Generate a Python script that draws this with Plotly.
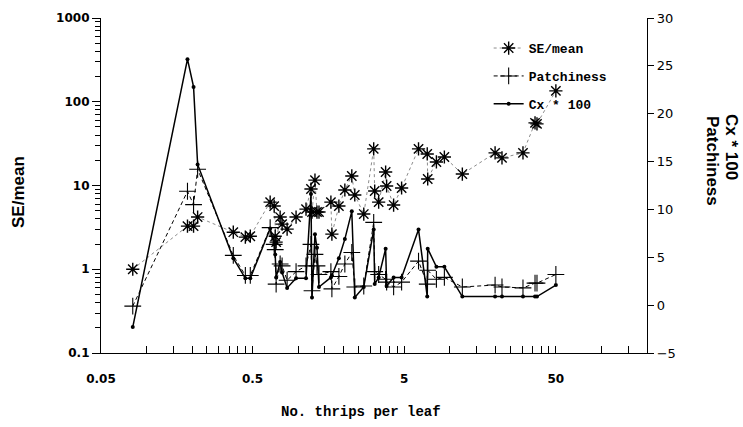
import plotly.graph_objects as go

# Mean density (No. thrips per leaf) of each data set
thrips = [0.081, 0.186, 0.204, 0.217, 0.373, 0.448, 0.483, 0.653, 0.694, 0.705,
          0.715, 0.760, 0.783, 0.845, 0.968, 1.126, 1.214, 1.233, 1.290, 1.330,
          1.371, 1.643, 1.668, 1.855, 2.031, 2.257, 2.362, 2.707, 3.148, 3.196,
          3.394, 3.774, 3.831, 4.26, 4.81, 6.22, 7.10, 7.15, 8.16, 9.21,
          12.1, 19.9, 22.1, 30.4, 36.5, 37.6, 50.1]

se_mean = [1.0, 3.27, 3.27, 4.20, 2.77, 2.42, 2.48, 6.34, 5.68, 2.48,
           2.11, 4.20, 3.46, 3.01, 4.20, 5.23, 9.08, 4.82, 11.6, 4.82,
           4.82, 6.34, 2.63, 5.68, 8.84, 13.0, 7.70, 4.56, 27.4, 8.60,
           6.34, 14.5, 9.86, 5.84, 9.33, 27.4, 23.8, 11.96, 19.1, 21.9,
           13.7, 24.5, 21.4, 24.5, 56.0, 54.5, 135.0]

patchiness = [-0.10, 11.9, 10.5, 14.2, 5.2, 3.1, 3.1, 8.1, 6.35, 5.8,
              2.2, 4.3, 4.1, 2.6, 3.5, 4.1, 6.35, 1.5, 5.3, 4.1,
              3.2, 3.5, 1.7, 3.0, 4.3, 5.5, 1.9, 2.0, 8.65, 3.5,
              3.2, 2.7, 2.4, 1.9, 2.4, 4.6, 2.2, 3.65, 2.7, 2.9,
              1.9, 2.1, 1.9, 1.8, 2.3, 2.3, 3.2]

cx100 = [-2.29, 25.7, 22.8, 14.7, 4.9, 2.8, 2.8, 8.0, 6.35, 5.3,
         2.9, 4.5, 3.4, 1.8, 2.8, 2.8, 11.6, 0.8, 7.4, 6.0,
         1.9, 2.9, 3.1, 4.9, 6.9, 9.8, 0.8, 1.9, 7.9, 2.2,
         2.9, 5.9, 2.0, 2.9, 2.9, 7.9, 0.9, 5.9, 4.0, 4.0,
         0.9, 0.9, 0.9, 0.9, 0.9, 0.9, 2.1]

x_tickvals = [0.05, 0.5, 5, 50]
x_ticktext = ["0.05", "0.5", "5", "50"]
y_tickvals = [0.1, 1, 10, 100, 1000]
y_ticktext = ["0.1", "1", "10", "100", "1000"]
y2_tickvals = [-5, 0, 5, 10, 15, 20, 25, 30]

x_minor = [k * 0.05 * 10 ** d for d in range(4) for k in range(2, 10)
           if k * 0.05 * 10 ** d <= 200] + [200]
y_minor = [k * 10.0 ** d for d in range(-1, 3) for k in range(2, 10)]

tick_font = dict(family="DejaVu Sans", size=12, color="black", weight="bold")
mono = dict(family="Liberation Mono", size=13, color="black", weight="bold")
sans_title = dict(family="Liberation Sans", size=17, color="black", weight="bold")

PL, PT, PW, PH = 101, 18, 546, 335   # plot area on screen
W, H = 743, 427


def px_x(sx):
    return (sx - PL) / PW


def px_y(sy):
    return 1 - (sy - PT) / PH


fig = go.Figure()

fig.add_trace(go.Scatter(
    x=thrips, y=se_mean, name="SE/mean", mode="lines+markers",
    legendgroup="a",
    line=dict(color="#8c8c8c", width=1, dash="dot"),
    marker=dict(symbol="asterisk-open", size=11, color="black",
                line=dict(color="black", width=1.4)),
    yaxis="y"))

fig.add_trace(go.Scatter(
    x=thrips, y=patchiness, name="Patchiness", mode="lines+markers",
    legendgroup="b",
    line=dict(color="black", width=1, dash="4px,3px"),
    marker=dict(symbol="cross-thin-open", size=12, color="black",
                line=dict(color="black", width=1.1)),
    yaxis="y2"))

fig.add_trace(go.Scatter(
    x=thrips, y=cx100, name="Cx * 100", mode="lines+markers",
    legendgroup="c",
    line=dict(color="black", width=1.5),
    marker=dict(symbol="circle", size=4, color="black"),
    yaxis="y2"))

fig.update_layout(
    width=W, height=H,
    margin=dict(l=PL, r=W - PL - PW, t=PT, b=H - PT - PH),
    plot_bgcolor="white", paper_bgcolor="white",
    showlegend=True,
    legend=dict(x=0.71, y=0.955, xanchor="left", yanchor="top",
                bgcolor="rgba(0,0,0,0)", font=mono, tracegroupgap=8,
                itemwidth=30),
    xaxis=dict(type="log", range=[-1.30103, 2.30103],
               showgrid=False, zeroline=False,
               showline=True, linecolor="black", linewidth=1.2,
               tickvals=x_tickvals, ticktext=x_ticktext,
               ticks="inside", ticklen=7, tickcolor="black", tickwidth=1,
               ticklabelstandoff=14, tickfont=tick_font,
               minor=dict(tickvals=x_minor, ticks="inside", ticklen=7,
                          tickcolor="black", tickwidth=1, showgrid=False)),
    yaxis=dict(type="log", range=[-1, 3],
               showgrid=False, zeroline=False,
               showline=True, linecolor="black", linewidth=1.2,
               tickvals=y_tickvals, ticktext=y_ticktext,
               ticks="outside", ticklen=8, tickcolor="black", tickwidth=1,
               tickfont=tick_font,
               minor=dict(tickvals=y_minor, ticks="outside", ticklen=5,
                          tickcolor="black", tickwidth=1, showgrid=False)),
    yaxis2=dict(overlaying="y", side="right", range=[-5, 30],
                showgrid=False, zeroline=False,
                showline=True, linecolor="black", linewidth=1.2,
                tickvals=y2_tickvals,
                ticks="outside", ticklen=6, tickcolor="black", tickwidth=1,
                tickfont=dict(family="DejaVu Sans", size=13, color="black")),
)

fig.add_annotation(text="SE/mean", xref="paper", yref="paper",
                   x=px_x(18), y=px_y(192),
                   textangle=-90, showarrow=False, font=sans_title,
                   xanchor="center", yanchor="middle")
fig.add_annotation(text="Patchiness", xref="paper", yref="paper",
                   x=px_x(713), y=px_y(161),
                   textangle=90, showarrow=False, font=sans_title,
                   xanchor="center", yanchor="middle")
fig.add_annotation(text="Cx * 100", xref="paper", yref="paper",
                   x=px_x(732), y=px_y(147),
                   textangle=90, showarrow=False, font=sans_title,
                   xanchor="center", yanchor="middle")
fig.add_annotation(text="No. thrips per leaf", xref="paper", yref="paper",
                   x=px_x(361), y=px_y(412),
                   showarrow=False,
                   font=dict(family="Liberation Mono", size=14, color="black",
                             weight="bold"),
                   xanchor="center", yanchor="middle")

fig.write_html(
    "out.html",
    config={"displayModeBar": False},
    post_script="document.body.style.margin='0';"
                "document.body.style.overflow='hidden';")
